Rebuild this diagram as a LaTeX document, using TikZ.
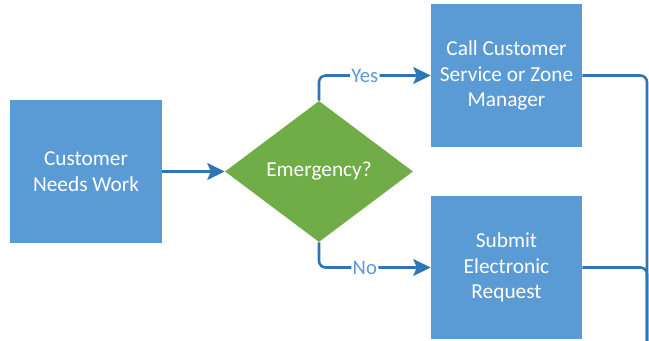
\documentclass[tikz,border=0pt]{standalone}
\usepackage{fontspec}
\setmainfont{Carlito}
\usetikzlibrary{shapes.geometric,arrows.meta}
\definecolor{boxblue}{HTML}{5B9BD5}
\definecolor{diagreen}{HTML}{70AD47}
\definecolor{linkblue}{HTML}{2E75B6}
\tikzset{
  procbox/.style={fill=boxblue, draw=none, minimum width=113.25pt, minimum height=107.25pt, text=white, align=center, font=\fontsize{16pt}{19.3pt}\selectfont, inner sep=0pt},
  decision/.style={diamond, fill=diagreen, draw=none, minimum width=141pt, minimum height=105.75pt, aspect=1.333, text=white, font=\fontsize{16pt}{19.3pt}\selectfont, inner sep=0pt},
  conn/.style={draw=linkblue, line width=1.9pt, rounded corners=5pt},
  arr/.style={-{Stealth[length=13pt,width=12.5pt,inset=2.5pt]}},
  lbl/.style={fill=white, text=boxblue, font=\fontsize{15.5pt}{18pt}\selectfont, inner sep=1pt}
}
\begin{document}
\begin{tikzpicture}[x=0.75pt,y=-0.75pt]
\useasboundingbox (0,0) rectangle (649,340);
\node[procbox, minimum width=114pt] (need) at (86,171.5) {Customer\\Needs Work};
\node[decision] (emer) at (319,171.5) {Emergency?};
\node[procbox] (call) at (506.5,75.5) {Call Customer\\Service or Zone\\Manager};
\node[procbox] (sub) at (506.5,267.5) {Submit\\Electronic\\Request};
\coordinate (endpt) at (647,342);
\draw[conn,arr] (need.east) -- (emer.west);
\draw[conn,arr] (emer.north) |- (call.west) node[lbl, pos=0.705] {Yes};
\draw[conn,arr] (emer.south) |- (sub.west) node[lbl, pos=0.705] {No};
\draw[conn] (call.east) -| (endpt);
\draw[conn] (sub.east) -| (endpt);
\end{tikzpicture}
\end{document}
